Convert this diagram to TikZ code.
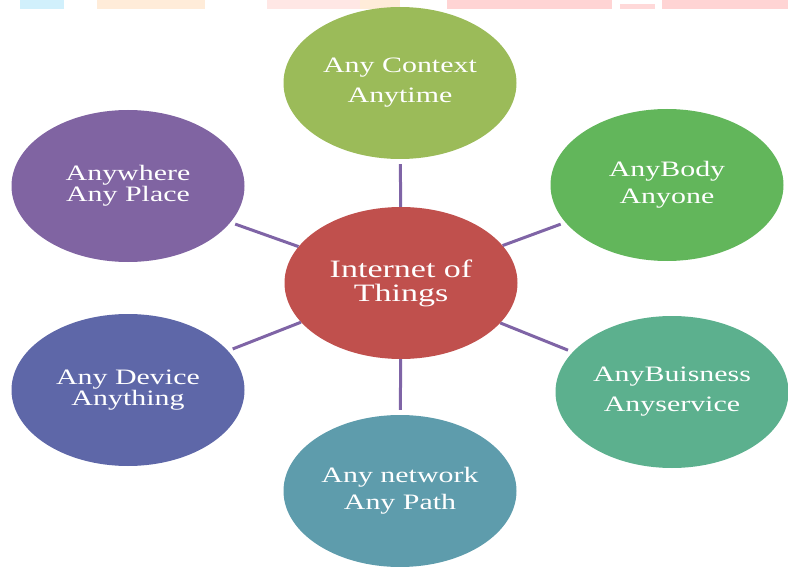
\documentclass[tikz,border=0pt]{standalone}
\usepackage{fontspec}
\setmainfont{Liberation Serif}
\newfontfamily\lblfont[FakeStretch=1.36]{Liberation Serif}
\usetikzlibrary{shapes.geometric}
\definecolor{cgreenA}{HTML}{9BBB59}
\definecolor{cpurple}{HTML}{8064A2}
\definecolor{cgreenB}{HTML}{62B65B}
\definecolor{cred}{HTML}{C0504D}
\definecolor{cblue}{HTML}{5E67A8}
\definecolor{cteal}{HTML}{5CB08E}
\definecolor{cpetrol}{HTML}{5E9CAC}
\definecolor{clink}{HTML}{7F64A6}
\tikzset{
  bubble/.style={ellipse, inner sep=0pt, minimum width=233pt, minimum height=152pt,
    text=white, align=center, font=\lblfont\fontsize{22}{#1}\selectfont},
  link/.style={draw=clink, line width=3pt},
  strip/.style={draw=none}
}
\begin{document}
\begin{tikzpicture}[x=1pt,y=-1pt]
\useasboundingbox (0,0) rectangle (788,567);
% faint strips at the top edge
\fill[strip, fill=cyan!18] (20,0) rectangle (64,9);
\fill[strip, fill=orange!15] (97,0) rectangle (205,9);
\fill[strip, fill=orange!12!red!10] (267,0) rectangle (360,9);
\fill[strip, fill=orange!15] (360,0) rectangle (400,9);
\fill[strip, fill=red!17] (447,0) rectangle (612,9);
\fill[strip, fill=red!15] (620,4) rectangle (655,9);
\fill[strip, fill=red!17] (662,0) rectangle (788,9);
% nodes
\node[bubble=24, fill=cred, font=\lblfont\fontsize{25}{24}\selectfont] (c) at (401,283) {Internet of\\Things};
\node[bubble=30, fill=cgreenA] (t)  at (400,83)  {Any Context\\Anytime};
\node[bubble=20, fill=cpurple] (tl) at (128,186) {Anywhere\\Any Place};
\node[bubble=27, fill=cgreenB] (tr) at (667,185) {AnyBody\\Anyone};
\node[bubble=21, fill=cblue]   (bl) at (128,390) {Any Device\\Anything};
\node[bubble=30, fill=cteal]   (br) at (672,392) {AnyBuisness\\Anyservice};
\node[bubble=27, fill=cpetrol] (b)  at (400,491) {Any network\\Any Path};
% connectors
\foreach \n in {t,tl,tr,bl,br,b}{
  \draw[link, shorten <=5pt] (\n) -- (c);
}
\end{tikzpicture}
\end{document}
